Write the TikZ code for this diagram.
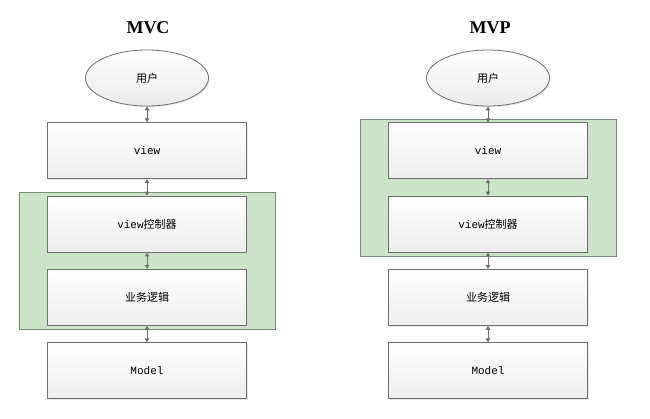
\documentclass[tikz,border=0pt]{standalone}
\usepackage{fontspec}
\setmonofont{Liberation Mono}
\newfontfamily\cjk{Noto Sans CJK SC}
\newfontfamily\titlefont{Liberation Serif}
\usepackage{xcolor}
\definecolor{edge}{HTML}{707070}
\definecolor{layer}{HTML}{CCE5C8}
\definecolor{layerline}{HTML}{7A8A78}
\usepackage{tikz}
\usetikzlibrary{arrows.meta, fit, positioning, shapes.geometric, shadows, backgrounds}
\newcommand{\zh}[1]{{\cjk #1}}
\tikzset{
    unit/.style={
        rectangle, draw=edge, line width=0.8pt,
        top color=white, bottom color=black!7,
        minimum width=199pt, minimum height=56pt,
        inner sep=0pt,
        font=\ttfamily\fontsize{11}{13}\selectfont,
        drop shadow={shadow xshift=1.2pt, shadow yshift=-1.2pt, fill=black!18},
        node distance=16.5pt
    },
    actor/.style={
        ellipse, draw=edge, line width=0.8pt,
        top color=white, bottom color=black!8,
        minimum width=123pt, minimum height=56pt,
        inner sep=0pt,
        font=\fontsize{11}{13}\selectfont,
        drop shadow={shadow xshift=1.2pt, shadow yshift=-1.2pt, fill=black!18}
    },
    link/.style={
        draw=edge, line width=1pt,
        {Triangle[length=4pt, width=4.5pt]}-{Triangle[length=4pt, width=4.5pt]}
    },
    tier/.style={
        rectangle, draw=layerline, line width=0.6pt, fill=layer,
        inner xsep=28pt, inner ysep=3.5pt
    },
    heading/.style={font=\titlefont\bfseries\fontsize{18}{20}\selectfont}
}
\begin{document}
\begin{tikzpicture}[x=1pt, y=-1pt]
    \useasboundingbox (0,0) rectangle (650,419);
    % MVC
    \node[heading] (mvc) at (148,28) {MVC};
    \node[actor] (user1) at (147,78) {\zh{用户}};
    \node[unit, below=16pt of user1] (view1) {view};
    \node[unit, below=of view1] (ctrl1) {view\zh{控制器}};
    \node[unit, below=of ctrl1] (logic1) {\zh{业务逻辑}};
    \node[unit, below=of logic1] (model1) {Model};
    \begin{scope}[on background layer]
        \node[tier, fit=(ctrl1) (logic1)] (group1) {};
    \end{scope}
    \draw[link] (user1) -- (view1);
    \draw[link] (view1) -- (ctrl1);
    \draw[link] (ctrl1) -- (logic1);
    \draw[link] (logic1) -- (model1);

    % MVP
    \node[heading] (mvp) at (490,28) {MVP};
    \node[actor] (user2) at (488,78) {\zh{用户}};
    \node[unit, below=16pt of user2] (view2) {view};
    \node[unit, below=of view2] (ctrl2) {view\zh{控制器}};
    \node[unit, below=of ctrl2] (logic2) {\zh{业务逻辑}};
    \node[unit, below=of logic2] (model2) {Model};
    \begin{scope}[on background layer]
        \node[tier, fit=(view2) (ctrl2)] (group2) {};
    \end{scope}
    \draw[link] (user2) -- (view2);
    \draw[link] (view2) -- (ctrl2);
    \draw[link] (ctrl2) -- (logic2);
    \draw[link] (logic2) -- (model2);
\end{tikzpicture}
\end{document}
